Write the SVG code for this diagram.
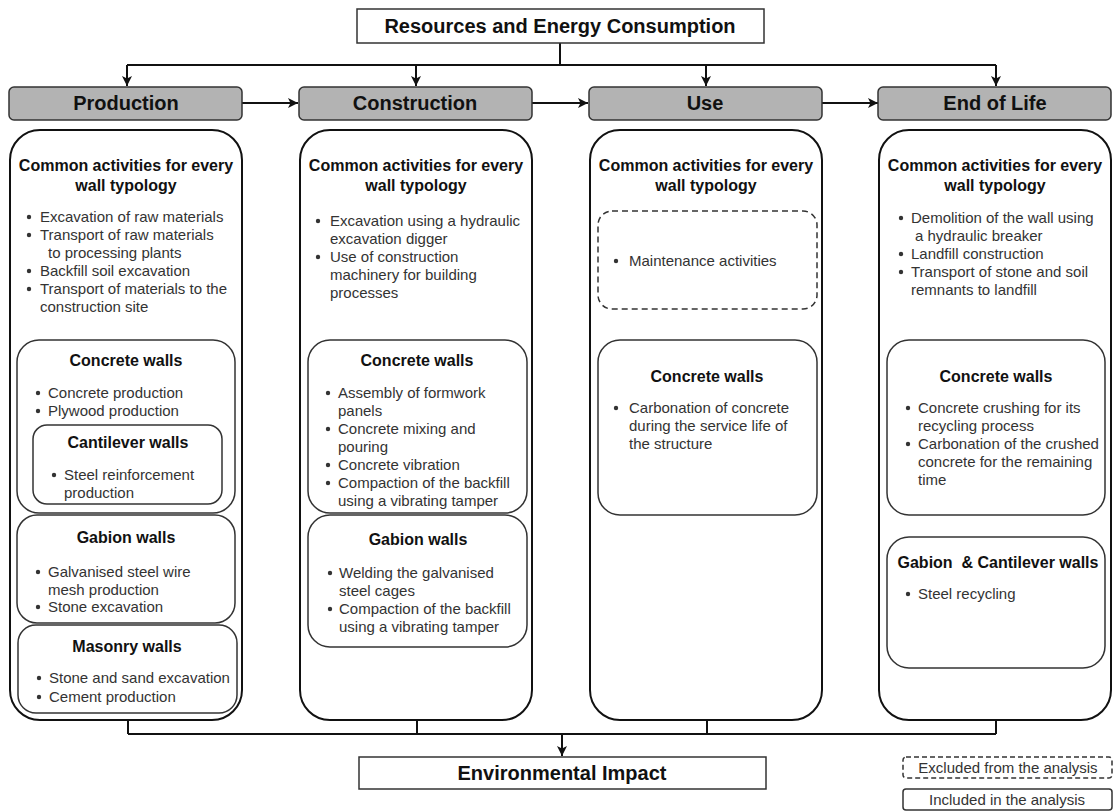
<svg xmlns="http://www.w3.org/2000/svg" width="1118" height="812" viewBox="0 0 1118 812">
<defs>
<style>
.box{fill:#fff;stroke:#111;stroke-width:2}
.inner{fill:#fff;stroke:#333;stroke-width:1.5}
.dash{fill:#fff;stroke:#333;stroke-width:1.5;stroke-dasharray:6 4}
.phase{fill:#b3b3b3;stroke:#333;stroke-width:1.5}
.plain{fill:#fff;stroke:#333;stroke-width:1.5}
.conn{fill:none;stroke:#111;stroke-width:2}
text{font-family:"Liberation Sans",Arial,sans-serif}
.t{font-size:15px;fill:#333}
.h{font-size:16px;font-weight:bold;fill:#111;text-anchor:middle}
.ph{font-size:20px;font-weight:bold;fill:#111;text-anchor:middle}
.lg{font-size:15px;fill:#333;text-anchor:middle}
.b{fill:#333}
</style>
<marker id="arr" markerUnits="userSpaceOnUse" markerWidth="10" markerHeight="10" refX="10" refY="5" orient="auto">
<path d="M0,0 L10,5 L0,10 L2.5,5 Z" fill="#111"/>
</marker>
</defs>
<rect width="1118" height="812" fill="#fff"/>

<g id="connectors">
<path class="conn" d="M560 43 V65 M127 65 H996"/>
<path class="conn" d="M127 65 V86" marker-end="url(#arr)"/>
<path class="conn" d="M416 65 V86" marker-end="url(#arr)"/>
<path class="conn" d="M706 65 V86" marker-end="url(#arr)"/>
<path class="conn" d="M996 65 V86" marker-end="url(#arr)"/>
<path class="conn" d="M242 103 H298" marker-end="url(#arr)"/>
<path class="conn" d="M532 103 H588" marker-end="url(#arr)"/>
<path class="conn" d="M822 103 H878" marker-end="url(#arr)"/>
<path class="conn" d="M128 720 V734 M417 720 V734 M707 720 V734 M996 720 V734 M128 734 H996"/>
<path class="conn" d="M562 734 V756" marker-end="url(#arr)"/>
</g>

<g id="resources">
<rect class="plain" x="357" y="9" width="407" height="34"/>
<text class="ph" x="560" y="33">Resources and Energy Consumption</text>
</g>

<g id="phase-production">
<rect class="phase" x="9" y="87" width="233" height="33" rx="5"/>
<text class="ph" x="126" y="110">Production</text>
</g>
<g id="phase-construction">
<rect class="phase" x="299" y="87" width="233" height="33" rx="5"/>
<text class="ph" x="415" y="110">Construction</text>
</g>
<g id="phase-use">
<rect class="phase" x="589" y="87" width="233" height="33" rx="5"/>
<text class="ph" x="705" y="110">Use</text>
</g>
<g id="phase-end">
<rect class="phase" x="878" y="87" width="233" height="33" rx="5"/>
<text class="ph" x="995" y="110">End of Life</text>
</g>

<!-- Production column -->
<g id="col-production">
<rect class="box" x="10" y="130" width="232" height="590" rx="30"/>
<text class="h" x="126" y="171">Common activities for every</text>
<text class="h" x="126" y="191">wall typology</text>
<circle class="b" cx="29" cy="217" r="2.2"/><text class="t" x="40" y="222">Excavation of raw materials</text>
<circle class="b" cx="29" cy="235" r="2.2"/><text class="t" x="40" y="240">Transport of raw materials</text>
<text class="t" x="48" y="258">to processing plants</text>
<circle class="b" cx="29" cy="271" r="2.2"/><text class="t" x="40" y="276">Backfill soil excavation</text>
<circle class="b" cx="29" cy="289" r="2.2"/><text class="t" x="40" y="294">Transport of materials to the</text>
<text class="t" x="40" y="312">construction site</text>
</g>
<g id="prod-concrete">
<rect class="inner" x="17" y="340" width="218" height="173" rx="22"/>
<text class="h" x="126" y="366">Concrete walls</text>
<circle class="b" cx="38" cy="393" r="2.2"/><text class="t" x="48" y="398">Concrete production</text>
<circle class="b" cx="38" cy="411" r="2.2"/><text class="t" x="48" y="416">Plywood production</text>
</g>
<g id="prod-cantilever">
<rect class="inner" x="33" y="425" width="189" height="79" rx="14"/>
<text class="h" x="128" y="448">Cantilever walls</text>
<circle class="b" cx="54" cy="475" r="2.2"/><text class="t" x="64" y="480">Steel reinforcement</text>
<text class="t" x="64" y="498">production</text>
</g>
<g id="prod-gabion">
<rect class="inner" x="17" y="515" width="218" height="108" rx="20"/>
<text class="h" x="126" y="543">Gabion walls</text>
<circle class="b" cx="38" cy="572" r="2.2"/><text class="t" x="48" y="577">Galvanised steel wire</text>
<text class="t" x="48" y="595">mesh production</text>
<circle class="b" cx="38" cy="607" r="2.2"/><text class="t" x="48" y="612">Stone excavation</text>
</g>
<g id="prod-masonry">
<rect class="inner" x="18" y="625" width="219" height="88" rx="18"/>
<text class="h" x="127" y="652">Masonry walls</text>
<circle class="b" cx="39" cy="678" r="2.2"/><text class="t" x="49" y="683">Stone and sand excavation</text>
<circle class="b" cx="39" cy="697" r="2.2"/><text class="t" x="49" y="702">Cement production</text>
</g>

<!-- Construction column -->
<g id="col-construction">
<rect class="box" x="300" y="130" width="232" height="590" rx="30"/>
<text class="h" x="416" y="171">Common activities for every</text>
<text class="h" x="416" y="191">wall typology</text>
<circle class="b" cx="318" cy="221" r="2.2"/><text class="t" x="330" y="226">Excavation using a hydraulic</text>
<text class="t" x="330" y="244">excavation digger</text>
<circle class="b" cx="318" cy="257" r="2.2"/><text class="t" x="330" y="262">Use of construction</text>
<text class="t" x="330" y="280">machinery for building</text>
<text class="t" x="330" y="298">processes</text>
</g>
<g id="cons-concrete">
<rect class="inner" x="308" y="340" width="219" height="173" rx="22"/>
<text class="h" x="417" y="366">Concrete walls</text>
<circle class="b" cx="328" cy="393" r="2.2"/><text class="t" x="338" y="398">Assembly of formwork</text>
<text class="t" x="338" y="416">panels</text>
<circle class="b" cx="328" cy="429" r="2.2"/><text class="t" x="338" y="434">Concrete mixing and</text>
<text class="t" x="338" y="452">pouring</text>
<circle class="b" cx="328" cy="465" r="2.2"/><text class="t" x="338" y="470">Concrete vibration</text>
<circle class="b" cx="328" cy="483" r="2.2"/><text class="t" x="338" y="488">Compaction of the backfill</text>
<text class="t" x="338" y="506">using a vibrating tamper</text>
</g>
<g id="cons-gabion">
<rect class="inner" x="308" y="515" width="219" height="132" rx="22"/>
<text class="h" x="418" y="545">Gabion walls</text>
<circle class="b" cx="330" cy="573" r="2.2"/><text class="t" x="339" y="578">Welding the galvanised</text>
<text class="t" x="339" y="596">steel cages</text>
<circle class="b" cx="330" cy="609" r="2.2"/><text class="t" x="339" y="614">Compaction of the backfill</text>
<text class="t" x="339" y="632">using a vibrating tamper</text>
</g>

<!-- Use column -->
<g id="col-use">
<rect class="box" x="590" y="130" width="232" height="590" rx="30"/>
<text class="h" x="706" y="171">Common activities for every</text>
<text class="h" x="706" y="191">wall typology</text>
</g>
<g id="use-maintenance">
<rect class="dash" x="598" y="211" width="219" height="98" rx="14"/>
<circle class="b" cx="616" cy="261" r="2.2"/><text class="t" x="629" y="266">Maintenance activities</text>
</g>
<g id="use-concrete">
<rect class="inner" x="598" y="340" width="219" height="175" rx="22"/>
<text class="h" x="707" y="382">Concrete walls</text>
<circle class="b" cx="616" cy="408" r="2.2"/><text class="t" x="629" y="413">Carbonation of concrete</text>
<text class="t" x="629" y="431">during the service life of</text>
<text class="t" x="629" y="449">the structure</text>
</g>

<!-- End of life column -->
<g id="col-end">
<rect class="box" x="879" y="130" width="232" height="590" rx="30"/>
<text class="h" x="995" y="171">Common activities for every</text>
<text class="h" x="995" y="191">wall typology</text>
<circle class="b" cx="901" cy="218" r="2.2"/><text class="t" x="911" y="223">Demolition of the wall using</text>
<text class="t" x="915" y="241">a hydraulic breaker</text>
<circle class="b" cx="901" cy="254" r="2.2"/><text class="t" x="911" y="259">Landfill construction</text>
<circle class="b" cx="901" cy="272" r="2.2"/><text class="t" x="911" y="277">Transport of stone and soil</text>
<text class="t" x="911" y="295">remnants to landfill</text>
</g>
<g id="end-concrete">
<rect class="inner" x="887" y="340" width="218" height="175" rx="22"/>
<text class="h" x="996" y="382">Concrete walls</text>
<circle class="b" cx="908" cy="408" r="2.2"/><text class="t" x="918" y="413">Concrete crushing for its</text>
<text class="t" x="918" y="431">recycling process</text>
<circle class="b" cx="908" cy="444" r="2.2"/><text class="t" x="918" y="449">Carbonation of the crushed</text>
<text class="t" x="918" y="467">concrete for the remaining</text>
<text class="t" x="918" y="485">time</text>
</g>
<g id="end-gabion-cantilever">
<rect class="inner" x="887" y="537" width="218" height="131" rx="22"/>
<text class="h" x="998" y="568" style="white-space:pre">Gabion  &amp; Cantilever walls</text>
<circle class="b" cx="908" cy="594" r="2.2"/><text class="t" x="918" y="599">Steel recycling</text>
</g>

<g id="environmental-impact">
<rect class="plain" x="359" y="757" width="407" height="32"/>
<text class="ph" x="562" y="780">Environmental Impact</text>
</g>

<g id="legend">
<rect class="dash" x="903" y="757" width="209" height="21" rx="3" style="stroke-dasharray:5 3"/>
<text class="lg" x="1008" y="773">Excluded from the analysis</text>
<rect class="plain" x="903" y="789" width="209" height="21" rx="3"/>
<text class="lg" x="1007" y="805">Included in the analysis</text>
</g>
</svg>
